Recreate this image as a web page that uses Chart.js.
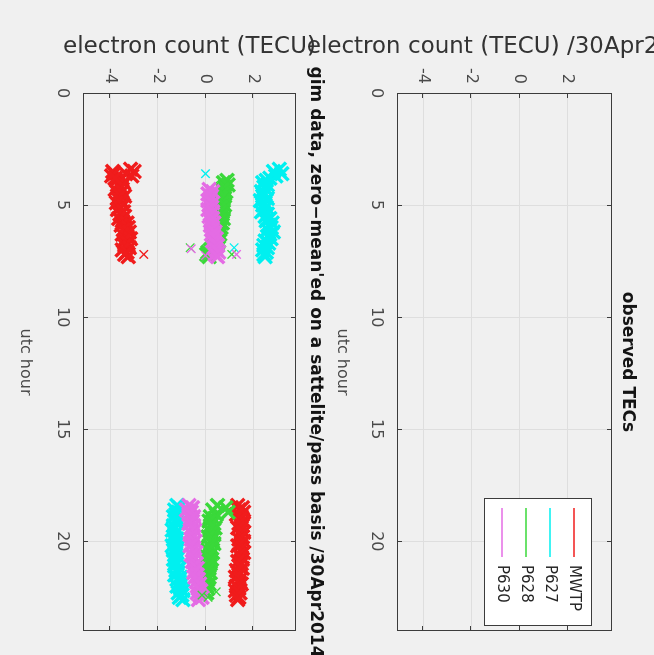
<!DOCTYPE html>
<html>
<head>
<meta charset="utf-8">
<title>TEC</title>
<script src="https://cdn.jsdelivr.net/npm/chart.js@4.4.1/dist/chart.umd.min.js"></script>
<style>
  html, body { margin: 0; padding: 0; background: #f0f0f0; overflow: hidden; width: 654px; height: 655px; }
  /* figure is laid out landscape-style, then turned a quarter clockwise */
  #fig {
    position: absolute; left: 0; top: 0;
    width: 655px; height: 654px;
    transform-origin: 0 0;
    transform: translate(654px, 0) rotate(90deg);
  }
  #fig canvas { position: absolute; left: 0; top: 0; }
</style>
</head>
<body>
<div id="fig">
  <canvas id="obsChart" width="655" height="654"></canvas>
  <canvas id="gimChart" width="655" height="654"></canvas>
</div>
<script>
// stations
const stations = ['MWTP', 'P627', 'P628', 'P630'];

// axis ticks
const hourTicks = [0, 5, 10, 15, 20];
const tecTicks = [-4, -2, 0, 2];

// morning pass (utc hour)
const hoursA = [3.4, 3.5, 3.6, 3.7, 3.8, 3.9, 4.0, 4.1, 4.2, 4.3,
  4.4, 4.5, 4.6, 4.7, 4.8, 4.9, 5.0, 5.1, 5.2, 5.3,
  5.4, 5.5, 5.6, 5.7, 5.8, 5.9, 6.0, 6.1, 6.2, 6.3,
  6.4, 6.5, 6.6, 6.7, 6.8, 6.9, 7.0, 7.1, 7.2, 7.3];
const mwtpA = [-3.15, -3.0, -3.35, -3.1, -3.5, -3.75, -3.45, -3.7, -3.55, -3.8,
  -3.5, -3.65, -3.4, -3.7, -3.55, -3.75, -3.45, -3.6, -3.7, -3.45,
  -3.6, -3.4, -3.65, -3.5, -3.3, -3.55, -3.25, -3.45, -3.2, -3.5,
  -3.3, -3.15, -3.45, -3.25, -3.4, -3.2, -3.5, -3.3, -3.4, -3.25];
const p627A = [3.1, 2.85, 3.2, 2.95, 2.7, 2.55, 2.4, 2.6, 2.45, 2.55,
  2.35, 2.5, 2.4, 2.6, 2.3, 2.5, 2.4, 2.55, 2.45, 2.35,
  2.6, 2.5, 2.7, 2.55, 2.8, 2.65, 2.75, 2.6, 2.85, 2.7,
  2.6, 2.75, 2.5, 2.65, 2.45, 2.6, 2.4, 2.55, 2.45, 2.5];
const p628A = [null, null, null, null, null, 0.9, 0.75, 0.95, 0.8, 0.7,
  0.85, 0.7, 0.8, 0.65, 0.75, 0.7, 0.8, 0.65, 0.75, 0.6,
  0.7, 0.65, 0.75, 0.6, 0.7, 0.55, 0.65, 0.6, 0.5, 0.6,
  0.55, 0.45, 0.55, 0.5, 0.4, 0.3, 0.2, 0.1, 0.05, 0.15];
const p630A = [null, null, null, null, null, null, null, null, null, 0.15,
  0.3, 0.1, 0.25, 0.2, 0.1, 0.3, 0.15, 0.25, 0.1, 0.3,
  0.2, 0.15, 0.3, 0.2, 0.35, 0.2, 0.3, 0.25, 0.4, 0.25,
  0.35, 0.45, 0.3, 0.4, 0.5, 0.35, 0.45, 0.55, 0.4, 0.5];

// evening pass (utc hour)
const hoursB = [18.4, 18.5, 18.6, 18.7, 18.8, 18.9, 19.0, 19.1, 19.2, 19.3,
  19.4, 19.5, 19.6, 19.7, 19.8, 19.9, 20.0, 20.1, 20.2, 20.3,
  20.4, 20.5, 20.6, 20.7, 20.8, 20.9, 21.0, 21.1, 21.2, 21.3,
  21.4, 21.5, 21.6, 21.7, 21.8, 21.9, 22.0, 22.1, 22.2, 22.3,
  22.4, 22.5, 22.6];
const mwtpB = [1.35, 1.55, 1.4, 1.6, 1.3, 1.5, 1.45, 1.6, 1.4, 1.55,
  1.35, 1.5, 1.6, 1.45, 1.55, 1.4, 1.6, 1.5, 1.35, 1.55,
  1.45, 1.6, 1.4, 1.5, 1.55, 1.35, 1.5, 1.4, 1.55, 1.3,
  1.45, 1.4, 1.25, 1.45, 1.35, 1.5, 1.3, 1.4, 1.25, 1.45,
  1.3, 1.4, 1.35];
const p627B = [-1.2, -1.1, -1.3, -1.15, -1.25, -1.35, -1.2, -1.3, -1.15, -1.35,
  -1.25, -1.4, -1.2, -1.3, -1.35, -1.2, -1.3, -1.25, -1.4, -1.2,
  -1.35, -1.25, -1.3, -1.15, -1.35, -1.25, -1.2, -1.3, -1.1, -1.25,
  -1.15, -1.3, -1.05, -1.2, -1.1, -1.0, -1.2, -1.05, -0.95, -1.15,
  -1.0, -1.1, -0.95];
const p628B = [0.5, 0.85, 0.3, 0.95, 0.45, 0.2, 0.35, 0.15, 0.3, 0.2,
  0.4, 0.15, 0.25, 0.35, 0.1, 0.3, 0.2, 0.35, 0.15, 0.25,
  0.1, 0.3, 0.2, 0.05, 0.25, 0.15, 0.2, 0.05, 0.15, 0.1,
  0.2, 0.05, 0.15, 0.1, 0.0, 0.15, 0.05, 0.1, -0.05, 0.05,
  null, null, null];
const p630B = [-0.7, -0.55, -0.8, -0.6, -0.7, -0.5, -0.65, -0.55, -0.7, -0.5,
  -0.6, -0.45, -0.65, -0.55, -0.5, -0.6, -0.45, -0.55, -0.65, -0.5,
  -0.55, -0.4, -0.6, -0.5, -0.45, -0.55, -0.4, -0.5, -0.35, -0.45,
  -0.5, -0.35, -0.45, -0.3, -0.4, -0.25, -0.35, -0.3, -0.2, -0.35,
  -0.25, -0.15, -0.3];

// MWTP track start, left edge of the hook
const mwtpHookH = [3.5, 3.6, 3.7, 3.8];
const mwtpHookV = [-3.9, -3.85, -3.95, -3.8];

// odd samples off the main tracks
const mwtpOddH = [7.2];
const mwtpOddV = [-2.6];
const p627OddH = [3.6, 6.9];
const p627OddV = [0.0, 1.2];
const p628OddH = [6.9, 7.2, 22.25, 22.4, 22.5];
const p628OddV = [-0.65, 1.1, 0.45, -0.15, 0.1];
const p630OddH = [6.95, 7.25, 7.2];
const p630OddV = [-0.6, 0.0, 1.3];

const colors = { MWTP: '#f01c1c', P627: '#00f0f0', P628: '#3ad83a', P630: '#e46ce4' };

const pairs = (hs, vs) => hs.map((h, i) => ({ x: h, y: vs[i] })).filter(p => p.y !== null);

const tracks = {
  MWTP: [...pairs(hoursA, mwtpA), ...pairs(mwtpHookH, mwtpHookV), ...pairs(hoursB, mwtpB)],
  P627: [...pairs(hoursA, p627A), ...pairs(hoursB, p627B)],
  P628: [...pairs(hoursA, p628A), ...pairs(hoursB, p628B)],
  P630: [...pairs(hoursA, p630A), ...pairs(hoursB, p630B)]
};
const oddOnes = {
  MWTP: pairs(mwtpOddH, mwtpOddV),
  P627: pairs(p627OddH, p627OddV),
  P628: pairs(p628OddH, p628OddV),
  P630: pairs(p630OddH, p630OddV)
};

Chart.defaults.font.family = '"DejaVu Sans", sans-serif';
Chart.defaults.animation = false;

// box round the axes, with inward tick marks on all four sides
const boxPlugin = {
  id: 'axesBox',
  afterDatasetsDraw(chart) {
    const { ctx, chartArea: a, scales: { x, y } } = chart;
    ctx.save();
    ctx.strokeStyle = '#3c3c3c';
    ctx.lineWidth = 1;
    ctx.strokeRect(a.left + 0.5, a.top + 0.5, a.width - 1, a.height - 1);
    ctx.beginPath();
    x.ticks.forEach(t => {
      const px = Math.round(x.getPixelForValue(t.value)) + 0.5;
      ctx.moveTo(px, a.bottom); ctx.lineTo(px, a.bottom - 5);
      ctx.moveTo(px, a.top); ctx.lineTo(px, a.top + 5);
    });
    y.ticks.forEach(t => {
      const py = Math.round(y.getPixelForValue(t.value)) + 0.5;
      ctx.moveTo(a.left, py); ctx.lineTo(a.left + 5, py);
      ctx.moveTo(a.right, py); ctx.lineTo(a.right - 5, py);
    });
    ctx.stroke();
    ctx.restore();
  }
};

// title over the axes and the value label beside them
const textPlugin = {
  id: 'axesText',
  afterDraw(chart, args, opts) {
    const { ctx, chartArea: a } = chart;
    ctx.save();
    ctx.textAlign = 'center';
    ctx.textBaseline = 'middle';
    ctx.fillStyle = '#141414';
    ctx.font = 'bold 17px "DejaVu Sans"';
    ctx.fillText(opts.title, (a.left + a.right) / 2, a.top - opts.titleGap);
    ctx.translate(opts.ylabelX, (a.top + a.bottom) / 2);
    ctx.rotate(-Math.PI / 2);
    ctx.fillStyle = '#333333';
    ctx.font = '23px "DejaVu Sans"';
    ctx.fillText(opts.ylabel, 0, 0);
    ctx.restore();
  }
};

// legend box tucked into the top right corner
const legendPlugin = {
  id: 'insetLegend',
  afterDraw(chart, args, opts) {
    if (!opts.show) return;
    const { ctx, chartArea: a } = chart;
    const left = a.right - 133, top = a.top + 20, w = 127, h = 107;
    ctx.save();
    ctx.fillStyle = '#ffffff';
    ctx.fillRect(left, top, w, h);
    ctx.strokeStyle = '#3c3c3c';
    ctx.lineWidth = 1;
    ctx.strokeRect(left + 0.5, top + 0.5, w, h);
    ctx.font = '15px "DejaVu Sans"';
    ctx.textBaseline = 'middle';
    ctx.textAlign = 'left';
    chart.data.datasets.forEach((ds, i) => {
      const ry = top + 18 + i * 24;
      ctx.strokeStyle = ds.borderColor;
      ctx.lineWidth = 1.6;
      ctx.beginPath();
      ctx.moveTo(left + 10, ry); ctx.lineTo(left + 59, ry);
      ctx.stroke();
      ctx.fillStyle = '#262626';
      ctx.fillText(ds.label, left + 67, ry);
    });
    ctx.restore();
  }
};

function axesOptions(padTop, padBottom, xHeight, yMin, yMax, title, titleGap, ylabel, legend) {
  return {
    responsive: false,
    animation: false,
    layout: { padding: { left: 0, right: 24, top: padTop, bottom: padBottom } },
    plugins: {
      legend: { display: false },
      tooltip: { enabled: false },
      axesText: { title: title, titleGap: titleGap, ylabel: ylabel, ylabelX: 47 },
      insetLegend: { show: legend }
    },
    scales: {
      x: {
        type: 'linear', position: 'bottom', min: 0, max: 24,
        afterBuildTicks: s => { s.ticks = hourTicks.map(v => ({ value: v })); },
        afterFit: s => { s.height = xHeight; },
        grid: { color: '#dedede', drawTicks: false },
        border: { display: false },
        ticks: { color: '#4a4a4a', font: { size: 16 }, padding: 11, maxRotation: 0 },
        title: { display: true, text: 'utc hour', color: '#4a4a4a', font: { size: 16 }, padding: { top: 0, bottom: 16 } }
      },
      y: {
        type: 'linear', position: 'left', min: yMin, max: yMax,
        afterBuildTicks: s => { s.ticks = tecTicks.map(v => ({ value: v })); },
        afterFit: s => { s.width = 93; },
        grid: { color: '#dedede', drawTicks: false },
        border: { display: false },
        ticks: { color: '#4a4a4a', font: { size: 16 }, padding: 9 }
      }
    }
  };
}

// upper axes: observed TECs (no samples, legend only)
new Chart(document.getElementById('obsChart'), {
  type: 'line',
  data: {
    datasets: stations.map(s => ({ label: s, data: [], borderColor: colors[s], pointRadius: 0 }))
  },
  options: axesOptions(42, 317, 80, -5.1, 3.85, 'observed TECs', 15, 'electron count (TECU) /30Apr2014', true),
  plugins: [boxPlugin, textPlugin, legendPlugin]
});

// lower axes: gim data per station, dense tracks plus the odd stray sample
const trackSets = stations.map((s, i) => ({
  label: s,
  data: tracks[s],
  order: stations.length - i + 4,
  pointStyle: 'crossRot',
  pointRadius: 9.5,
  pointBorderWidth: 3.4,
  borderColor: colors[s],
  backgroundColor: colors[s],
  showLine: false
}));
const oddSets = stations.map((s, i) => ({
  label: s,
  data: oddOnes[s],
  order: stations.length - i,
  pointStyle: 'crossRot',
  pointRadius: 6,
  pointBorderWidth: 1.3,
  borderColor: colors[s],
  backgroundColor: colors[s],
  showLine: false
}));

new Chart(document.getElementById('gimChart'), {
  type: 'scatter',
  data: { datasets: [...trackSets, ...oddSets] },
  options: axesOptions(358, 0, 83, -5.15, 3.8, "gim data, zero\u2212mean'ed on a sattelite/pass basis /30Apr2014", 19, 'electron count (TECU)', false),
  plugins: [boxPlugin, textPlugin, legendPlugin]
});
</script>
</body>
</html>
